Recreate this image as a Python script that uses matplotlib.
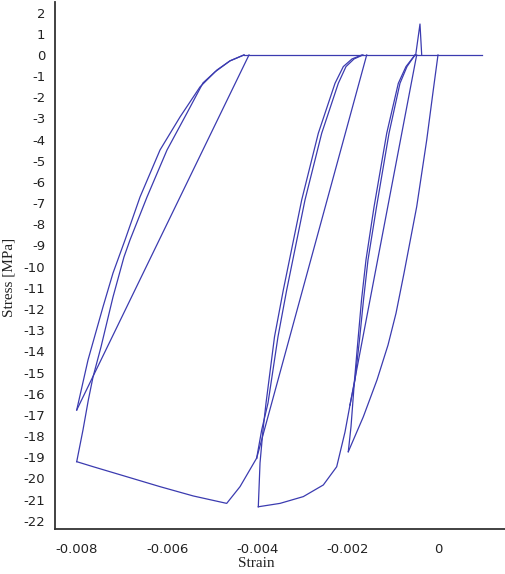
import matplotlib
matplotlib.use("Agg")
import matplotlib.pyplot as plt

# ---- data (strain, stress [MPa]) ----
load1_strain = [0.0, -0.000104, -0.000250, -0.000472, -0.000753, -0.000930, -0.001107, -0.001351, -0.001654, -0.001987]
load1_stress = [0.0, -1.65, -4.02, -7.17, -10.31, -12.20, -13.70, -15.35, -17.09, -18.74]

unl1_strain = [-0.001987, -0.001927, -0.001849, -0.001772, -0.001694, -0.001595, -0.001417, -0.001136, -0.000879, -0.000709, -0.000509]
unl1_stress = [-18.74, -17.56, -15.35, -13.46, -11.57, -9.68, -7.18, -3.70, -1.34, -0.55, 0.0]

unl2_strain = [-0.001949, -0.001838, -0.001739, -0.001650, -0.001550, -0.001362, -0.001085, -0.000842, -0.000687, -0.000509]
unl2_stress = [-16.53, -15.35, -13.46, -11.57, -9.68, -7.18, -3.70, -1.34, -0.55, 0.0]

rel1_strain = [-0.000472, -0.001949]
rel1_stress = [0.0, -16.53]

env2_strain = [-0.001949, -0.002060, -0.002244, -0.002540, -0.002983, -0.003499, -0.003980]
env2_stress = [-16.53, -17.81, -19.45, -20.31, -20.86, -21.18, -21.34]

unl3_strain = [-0.003980, -0.003942, -0.003876, -0.003809, -0.003621, -0.003426, -0.003019, -0.002651, -0.002281, -0.002097, -0.001905, -0.001683]
unl3_stress = [-21.34, -19.27, -17.71, -16.44, -13.31, -11.10, -6.85, -3.70, -1.34, -0.55, -0.19, 0.0]

unl4_strain = [-0.004016, -0.003905, -0.003765, -0.003544, -0.003351, -0.002946, -0.002576, -0.002208, -0.002038, -0.001860, -0.001661]
unl4_stress = [-19.04, -17.71, -16.44, -13.31, -11.10, -6.85, -3.70, -1.34, -0.55, -0.19, 0.0]

rel2_strain = [-0.001579, -0.004016]
rel2_stress = [0.0, -19.04]

env3_strain = [-0.004016, -0.004385, -0.004680, -0.005420, -0.006157, -0.006895, -0.007635, -0.008002]
env3_stress = [-19.04, -20.39, -21.18, -20.83, -20.39, -19.92, -19.45, -19.21]

unl5_strain = [-0.008002, -0.007863, -0.007745, -0.007641, -0.007464, -0.007198, -0.006955, -0.006822, -0.006445, -0.006002, -0.005559, -0.005205, -0.004939, -0.004607, -0.004297]
unl5_stress = [-19.21, -17.71, -16.30, -15.21, -13.79, -11.43, -9.54, -8.74, -6.71, -4.49, -2.74, -1.32, -0.80, -0.28, 0.0]

rel3_strain = [-0.004186, -0.008002]
rel3_stress = [0.0, -16.77]

unl6_strain = [-0.008002, -0.007752, -0.007420, -0.007198, -0.006932, -0.006600, -0.006157, -0.005714, -0.005271, -0.004895, -0.004607, -0.004297]
unl6_stress = [-16.77, -14.41, -11.90, -10.30, -8.74, -6.71, -4.49, -2.93, -1.51, -0.71, -0.28, 0.0]

zero_strain = [-0.004297, 0.000975]
zero_stress = [0.0, 0.0]

spike_strain = [-0.000494, -0.000399, -0.000361]
spike_stress = [0.0, 1.46, 0.0]

xticks = [-0.008, -0.006, -0.004, -0.002, 0.0]
xtick_labels = ["-0.008", "-0.006", "-0.004", "-0.002", "0"]
yticks = list(range(2, -23, -1))

# ---- figure ----
W, H = 505, 574
fig = plt.figure(figsize=(W / 100, H / 100), dpi=100)
ax = fig.add_axes([55 / W, 1 - 529 / H, 450 / W, 527 / H])

col = "#3b3bb0"
lw = 0.9
branches = [
    (load1_strain, load1_stress), (unl1_strain, unl1_stress), (unl2_strain, unl2_stress),
    (rel1_strain, rel1_stress), (env2_strain, env2_stress), (unl3_strain, unl3_stress),
    (unl4_strain, unl4_stress), (rel2_strain, rel2_stress), (env3_strain, env3_stress),
    (unl5_strain, unl5_stress), (rel3_strain, rel3_stress), (unl6_strain, unl6_stress),
    (zero_strain, zero_stress), (spike_strain, spike_stress),
]
for xs, ys in branches:
    ax.plot(xs, ys, color=col, lw=lw, solid_joinstyle="round")

ax.set_xlim(-0.008483, 0.001484)
ax.set_ylim(-22.39, 2.50)

ax.spines["top"].set_visible(False)
ax.spines["right"].set_visible(False)
for s in ("left", "bottom"):
    ax.spines[s].set_color("#333333")
    ax.spines[s].set_linewidth(1.3)

ax.set_xticks(xticks)
ax.set_xticklabels(xtick_labels)
ax.set_yticks(yticks)
ax.set_yticklabels([str(v) for v in yticks])
ax.tick_params(axis="both", length=0, labelsize=9.5, colors="#222222")
ax.tick_params(axis="y", pad=7)
ax.tick_params(axis="x", pad=10)

ax.set_xlabel("Strain", family="Liberation Serif", fontsize=11, color="#222222")
ax.set_ylabel("Stress [MPa]", family="Liberation Serif", fontsize=11, color="#222222")
ax.xaxis.set_label_coords((256 - 55) / 450, (529 - 557) / 527)
ax.yaxis.set_label_coords((16 - 55) / 450, (529 - 277) / 527)

fig.savefig("out.png", dpi=100)
